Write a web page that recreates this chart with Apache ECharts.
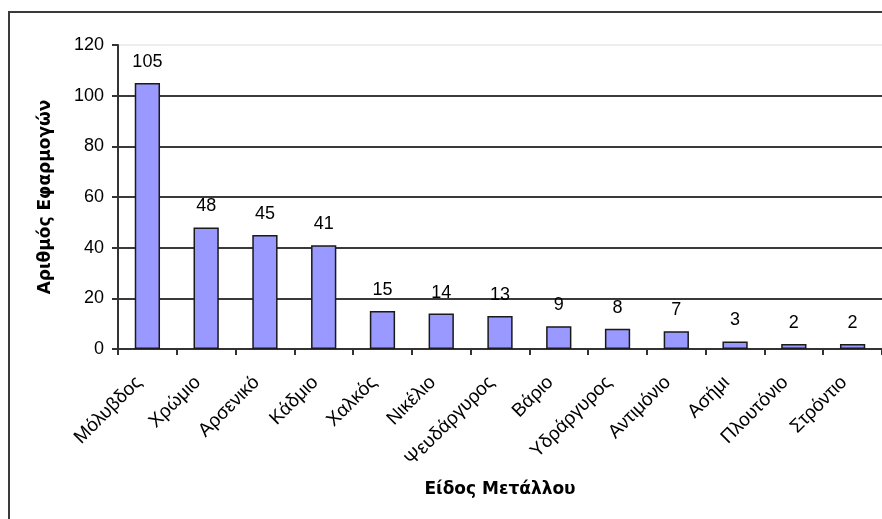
<!DOCTYPE html>
<html>
<head>
<meta charset="utf-8">
<script src="https://cdn.jsdelivr.net/npm/echarts@6/dist/echarts.min.js"></script>
<style>
  html, body { margin: 0; padding: 0; background: #fff; }
  #chart { width: 882px; height: 519px; }
</style>
</head>
<body>
<div id="chart"></div>
<script>
// Metals and how many applications each one has
const metals = ['Μόλυβδος', 'Χρώμιο', 'Αρσενικό', 'Κάδμιο', 'Χαλκός', 'Νικέλιο',
  'Ψευδάργυρος', 'Βάριο', 'Υδράργυρος', 'Αντιμόνιο', 'Ασήμι', 'Πλουτόνιο', 'Στρόντιο'];
const applications = [105, 48, 45, 41, 15, 14, 13, 9, 8, 7, 3, 2, 2];
const yTicks = [0, 20, 40, 60, 80, 100, 120];

const font = 'Liberation Sans, Arial, sans-serif';
const titleFont = 'DejaVu Sans, Verdana, sans-serif';
const chart = echarts.init(document.getElementById('chart'), null, { renderer: 'canvas' });

chart.setOption({
  animation: false,
  backgroundColor: '#fff',
  graphic: [{
    type: 'rect',
    shape: { x: 9, y: 12, width: 900, height: 600 },
    style: { fill: 'none', stroke: '#3a3a3a', lineWidth: 2 },
    z: 0
  }],
  grid: { left: 118, top: 45, right: -2, bottom: 170, containLabel: false },
  xAxis: {
    type: 'category',
    data: metals,
    name: 'Είδος Μετάλλου',
    nameLocation: 'middle',
    nameGap: 132,
    nameTextStyle: { fontFamily: titleFont, fontSize: 17, fontWeight: 'bold', color: '#000' },
    axisLine: { lineStyle: { color: '#333', width: 2 } },
    axisTick: { show: true, length: 6, lineStyle: { color: '#333', width: 2 } },
    axisLabel: {
      rotate: 45, fontFamily: font, fontSize: 19, color: '#000', margin: 22, interval: 0,
      padding: [0, 12, 0, 0]
    }
  },
  yAxis: {
    type: 'value',
    min: yTicks[0],
    max: yTicks[yTicks.length - 1],
    interval: 20,
    name: 'Αριθμός Εφαρμογών',
    nameLocation: 'middle',
    nameRotate: 90,
    nameGap: 64,
    nameTextStyle: { fontFamily: titleFont, fontSize: 17, fontWeight: 'bold', color: '#000' },
    axisLine: { show: true, lineStyle: { color: '#333', width: 2 } },
    axisTick: { show: true, inside: false, length: 6, lineStyle: { color: '#333', width: 2 } },
    axisLabel: { fontFamily: font, fontSize: 18, color: '#000', margin: 14 },
    splitLine: {
      show: true,
      lineStyle: {
        color: yTicks.map(function (v) { return v === 120 ? '#eeeeee' : '#3a3a3a'; }),
        width: 2
      }
    }
  },
  series: [{
    type: 'bar',
    data: applications,
    barWidth: '43%',
    itemStyle: { color: '#9999ff', borderColor: '#1a1a1a', borderWidth: 1.5 },
    label: {
      show: true,
      position: 'top',
      distance: 12,
      fontFamily: font,
      fontSize: 18,
      color: '#000'
    }
  }]
});
</script>
</body>
</html>
